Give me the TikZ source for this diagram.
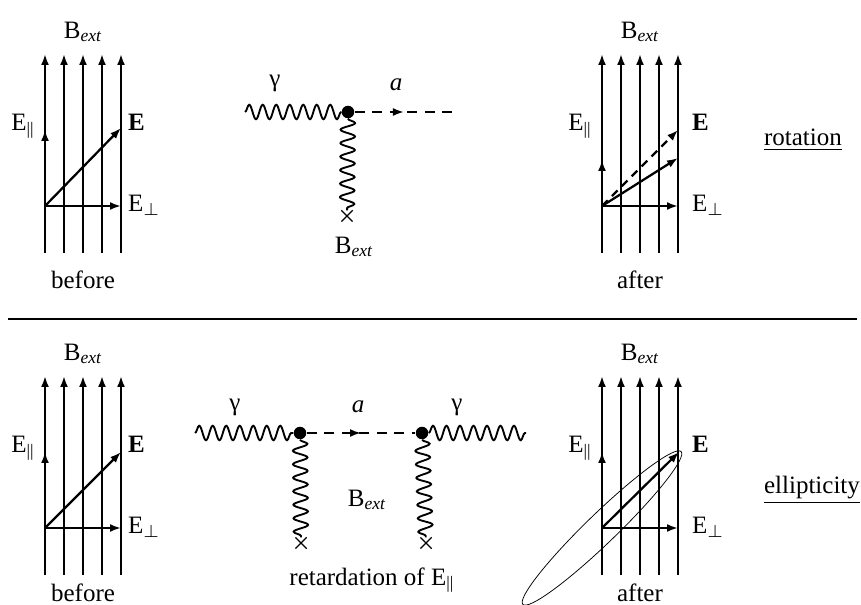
\documentclass[tikz,border=0pt]{standalone}
\usepackage{fontspec}
\setmainfont{Liberation Serif}
\usetikzlibrary{arrows.meta,shapes.misc,decorations.pathmorphing,decorations.markings}

\begin{document}
\begin{tikzpicture}[
  x=0.4pt, y=-0.4pt,
  >={Latex[length=4.4pt,width=3.2pt]},
  fld/.style={line width=0.9pt, ->},
  vec/.style={line width=0.9pt, ->},
  photon/.style={line width=0.75pt, decorate, decoration={snake, segment length=5.4pt, amplitude=2.9pt}},
  axion/.style={line width=0.75pt, dash pattern=on 4pt off 3pt,
    postaction={decorate, decoration={markings, mark=at position 0.5 with {\arrow{>}}}}},
  vtx/.style={circle, fill, inner sep=0pt, minimum size=5pt},
  ext/.style={cross out, draw, line width=0.5pt, inner sep=0pt, minimum size=4pt},
  lbl/.style={inner sep=1pt}
]
\useasboundingbox (0,0) rectangle (861,605);

\foreach \p/\ox/\oy/\dx/\when/\wy in {tl/45/206/80/before/74, tr/602/206/87/after/74,
                                       bl/45/528/80/before/65, br/602/528/87/after/65}{
  \coordinate (\p-o) at (\ox,\oy);
  \foreach \k in {0,...,4}
    \draw[fld] (\ox+19*\k,\oy+47) -- (\ox+19*\k,\oy-152);
  \coordinate (\p-perp) at (\ox+76,\oy);
  \draw[vec] (\p-o) -- (\p-perp);
  \node[lbl] (\p-bext) at (\ox+38,\oy-174) {B\textsubscript{\itshape ext}};
  \node[lbl, anchor=base east] (\p-lpar) at (\ox-7,\oy-75) {E\textsubscript{||}};
  \node[lbl, anchor=base west] (\p-lE) at (\ox+\dx,\oy-75) {\textbf{E}};
  \node[lbl, anchor=base west] (\p-lperp) at (\ox+\dx,\oy+6) {E\textsubscript{$\perp$}};
  \node[lbl] (\p-when) at (\ox+38,\oy+\wy) {\when};
}

\coordinate (tl-par) at (45,130);
\coordinate (tl-E) at (121,128);
\coordinate (tr-par) at (602,160);
\coordinate (tr-E0) at (678,130);
\coordinate (tr-E) at (678,158);
\coordinate (bl-par) at (45,452);
\coordinate (bl-E) at (121,452);
\coordinate (br-par) at (602,452);
\coordinate (br-E) at (679,452);
\foreach \p in {tl,tr,bl,br}{
  \draw[vec] (\p-o) -- (\p-par);
  \draw[vec] (\p-o) -- (\p-E);
}
\draw[vec, dash pattern=on 3.2pt off 2.4pt] (tr-o) -- (tr-E0);
\draw[line width=0.3pt, rotate around={44:(br-o)}] (br-o) ellipse [x radius=110, y radius=15];

\coordinate (rule-w) at (8,319);
\coordinate (rule-e) at (857,319);
\draw[line width=0.9pt] (rule-w) -- (rule-e);

\node[lbl] (rot) at (803,140) {\underline{rotation}};
\node[lbl] (ell) at (812,490) {\underline{ellipticity}};

\node[vtx] (v0) at (348,112) {};
\coordinate (g0) at (245,112);
\coordinate (a0) at (453,112);
\node[ext] (x0) at (347,216) {};
\draw[photon] (g0) -- (v0);
\draw[axion] (v0) -- (a0);
\draw[photon] (v0) -- (x0);
\node[lbl] (lg0) at (275,83) {γ};
\node[lbl] (la0) at (396,85) {\textit{a}};
\node[lbl] (lb0) at (354,247) {B\textsubscript{\itshape ext}};

\node[vtx] (v1) at (300,433) {};
\node[vtx] (v2) at (422,433) {};
\coordinate (g1) at (195,433);
\coordinate (g2) at (526,433);
\node[ext] (x1) at (301,543) {};
\node[ext] (x2) at (426,543) {};
\draw[photon] (g1) -- (v1);
\draw[axion] (v1) -- (v2);
\draw[photon] (v2) -- (g2);
\draw[photon] (v1) -- (x1);
\draw[photon] (v2) -- (x2);
\node[lbl] (lg1) at (235,407) {γ};
\node[lbl] (la1) at (358,407) {\textit{a}};
\node[lbl] (lg2) at (457,407) {γ};
\node[lbl] (lb1) at (367,500) {B\textsubscript{\itshape ext}};
\node[lbl] (ret) at (372,580) {retardation of E\textsubscript{||}};
\end{tikzpicture}
\end{document}
